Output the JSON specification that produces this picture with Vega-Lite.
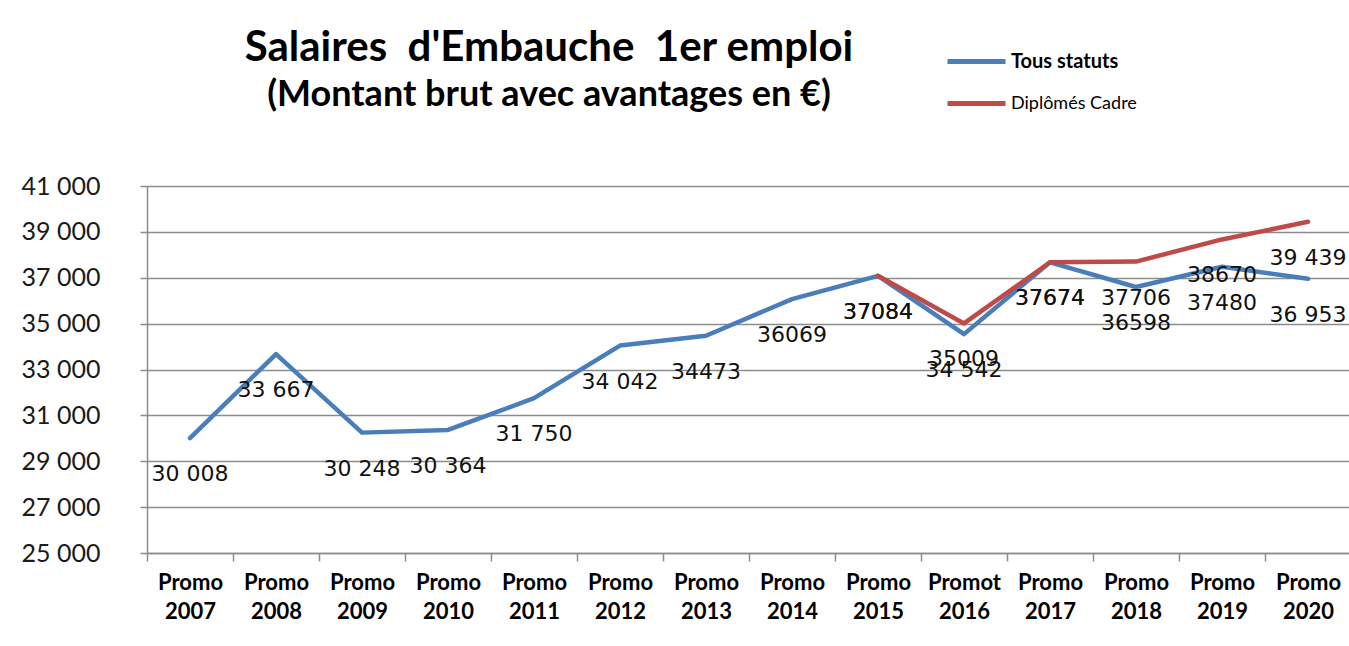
{
  "$schema": "https://vega.github.io/schema/vega-lite/v6.json",
  "autosize": "none",
  "width": 1204,
  "height": 367,
  "padding": {"left": 147, "top": 186, "right": 0, "bottom": 93},
  "background": "white",
  "title": {
    "text": "Salaires\u00a0 d'Embauche\u00a0 1er emploi",
    "subtitle": "(Montant brut avec avantages en €)",
    "anchor": "middle",
    "frame": "group",
    "dx": -200,
    "offset": -84,
    "font": "Lato",
    "fontSize": 42,
    "fontWeight": "bold",
    "color": "#000000",
    "subtitleFont": "Lato",
    "subtitleFontSize": 36,
    "subtitleFontWeight": "bold",
    "subtitleColor": "#000000",
    "subtitlePadding": 8
  },
  "data": {
    "values": [
      {"promo": "Promo 2007", "serie": "Tous statuts", "value": 30008, "label": "30 008"},
      {"promo": "Promo 2008", "serie": "Tous statuts", "value": 33667, "label": "33 667"},
      {"promo": "Promo 2009", "serie": "Tous statuts", "value": 30248, "label": "30 248"},
      {"promo": "Promo 2010", "serie": "Tous statuts", "value": 30364, "label": "30 364"},
      {"promo": "Promo 2011", "serie": "Tous statuts", "value": 31750, "label": "31 750"},
      {"promo": "Promo 2012", "serie": "Tous statuts", "value": 34042, "label": "34 042"},
      {"promo": "Promo 2013", "serie": "Tous statuts", "value": 34473, "label": "34473"},
      {"promo": "Promo 2014", "serie": "Tous statuts", "value": 36069, "label": "36069"},
      {"promo": "Promo 2015", "serie": "Tous statuts", "value": 37084, "label": "37084"},
      {"promo": "Promot 2016", "serie": "Tous statuts", "value": 34542, "label": "34 542"},
      {"promo": "Promo 2017", "serie": "Tous statuts", "value": 37674, "label": "37674"},
      {"promo": "Promo 2018", "serie": "Tous statuts", "value": 36598, "label": "36598"},
      {"promo": "Promo 2019", "serie": "Tous statuts", "value": 37480, "label": "37480"},
      {"promo": "Promo 2020", "serie": "Tous statuts", "value": 36953, "label": "36 953"},
      {"promo": "Promo 2015", "serie": "Diplômés Cadre", "value": 37084, "label": "37084"},
      {"promo": "Promot 2016", "serie": "Diplômés Cadre", "value": 35009, "label": "35009"},
      {"promo": "Promo 2017", "serie": "Diplômés Cadre", "value": 37674, "label": "37674"},
      {"promo": "Promo 2018", "serie": "Diplômés Cadre", "value": 37706, "label": "37706"},
      {"promo": "Promo 2019", "serie": "Diplômés Cadre", "value": 38670, "label": "38670"},
      {"promo": "Promo 2020", "serie": "Diplômés Cadre", "value": 39439, "label": "39 439"}
    ]
  },
  "encoding": {
    "x": {
      "field": "promo",
      "type": "nominal",
      "sort": null,
      "scale": {"paddingInner": 0, "paddingOuter": 0},
      "axis": {
        "title": null,
        "labelAngle": 0,
        "labelExpr": "split(datum.label, ' ')",
        "labelFont": "Lato",
        "labelFontSize": 22,
        "labelFontWeight": "bold",
        "labelColor": "#000000",
        "labelLineHeight": 29,
        "labelPadding": 11,
        "tickBand": "extent",
        "tickSize": 8,
        "tickColor": "#8c8c8c",
        "tickWidth": 1.5,
        "domainColor": "#8c8c8c",
        "domainWidth": 1.5,
        "grid": false
      }
    },
    "y": {
      "field": "value",
      "type": "quantitative",
      "scale": {"domain": [25000, 41000], "nice": false, "zero": false},
      "axis": {
        "title": null,
        "values": [25000, 27000, 29000, 31000, 33000, 35000, 37000, 39000, 41000],
        "labelExpr": "replace(format(datum.value, ',d'), ',', ' ')",
        "labelFont": "Lato",
        "labelFontSize": 25,
        "labelColor": "#1a1a1a",
        "labelPadding": 40,
        "tickSize": 7,
        "tickColor": "#8c8c8c",
        "tickWidth": 1.5,
        "domainColor": "#8c8c8c",
        "domainWidth": 1.5,
        "gridColor": "#8c8c8c",
        "gridWidth": 1.5
      }
    }
  },
  "layer": [
    {
      "mark": {"type": "line", "strokeWidth": 4.5, "strokeCap": "round", "strokeJoin": "round"},
      "encoding": {
        "color": {
          "field": "serie",
          "type": "nominal",
          "scale": {"domain": ["Tous statuts", "Diplômés Cadre"], "range": ["#4a7ebb", "#be4b48"]},
          "legend": {
            "title": null,
            "orient": "none",
            "legendX": 798,
            "legendY": -156,
            "padding": 0,
            "symbolType": "stroke",
            "symbolSize": 3364,
            "symbolStrokeWidth": 5,
            "rowPadding": -18,
            "labelOffset": 3,
            "labelFont": "Lato",
            "labelColor": "#000000",
            "labelFontSize": {"expr": "datum.label === 'Tous statuts' ? 20 : 18"},
            "labelFontWeight": {"expr": "datum.label === 'Tous statuts' ? 'bold' : 'normal'"}
          }
        }
      }
    },
    {
      "mark": {"type": "text", "dy": 36, "font": "DejaVu Sans", "fontSize": 22, "fill": "#111111", "baseline": "middle", "align": "center"},
      "encoding": {
        "text": {"field": "label", "type": "nominal"}
      }
    }
  ]
}
